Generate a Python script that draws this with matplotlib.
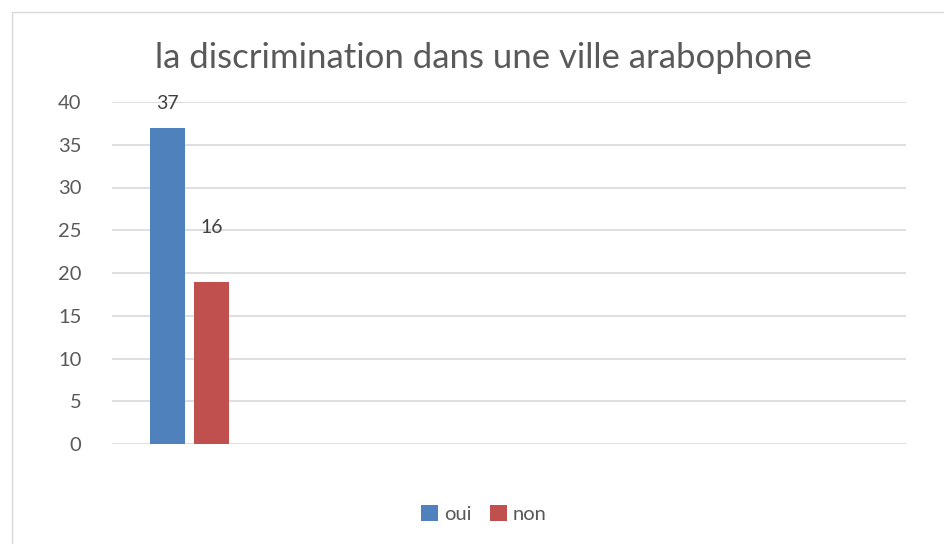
import matplotlib
matplotlib.use("Agg")
import matplotlib.pyplot as plt
from matplotlib.patches import Rectangle

categories = ["", "", "", "", ""]
series_names = ["oui", "non"]
oui_values = [37]
non_values = [19]
label_texts = ["37", "16"]
label_y = [39.8, 25.3]
yticks = [0, 5, 10, 15, 20, 25, 30, 35, 40]
title = "la discrimination dans une ville arabophone"

colors = ["#4f81bd", "#c0504d"]
text_color = "#595959"
grid_color = "#d9d9d9"

plt.rcParams['font.family'] = ['Lato', 'DejaVu Sans']

fig = plt.figure(figsize=(9.44, 5.44), dpi=100)
fig.patches.append(Rectangle((12/944, -0.05), 1.1, (544-12)/544 + 0.05,
                             transform=fig.transFigure, fill=False,
                             edgecolor="#d9d9d9", linewidth=1.0))
ax = fig.add_axes([112/944, (544-444)/544, (906-112)/944, (444-102)/544])

bw = 0.22
x_oui = -0.152
x_non = 0.125
b1 = ax.bar([x_oui], oui_values, width=bw, color=colors[0], label=series_names[0], zorder=3)
b2 = ax.bar([x_non], non_values, width=bw, color=colors[1], label=series_names[1], zorder=3)

for xpos, txt, yy in zip([x_oui, x_non], label_texts, label_y):
    ax.text(xpos, yy, txt, ha="center", va="center", fontsize=14, color="#404040")

ax.set_xlim(-0.5, len(categories) - 0.5)
ax.set_ylim(0, 40)
ax.set_yticks(yticks)
ax.set_xticks([])
ax.yaxis.grid(True, color=grid_color, linewidth=1.2, zorder=0)
ax.set_axisbelow(True)
for s in ax.spines.values():
    s.set_visible(False)
ax.tick_params(axis="y", length=0, pad=22, labelsize=14.5, labelcolor=text_color)
for lab in ax.get_yticklabels():
    lab.set_horizontalalignment("right")

fig.text(483/944, 1 - 58/544, title, ha="center", va="center", fontsize=25, color=text_color)

leg = fig.legend(handles=[b1, b2], labels=series_names, loc="center",
                 bbox_to_anchor=(484/944, 1 - 514/544), ncol=2, frameon=False,
                 fontsize=14.5, handlelength=0.85, handleheight=0.85,
                 handletextpad=0.3, columnspacing=0.9)
for t in leg.get_texts():
    t.set_color(text_color)

fig.savefig("out.png", dpi=100)
